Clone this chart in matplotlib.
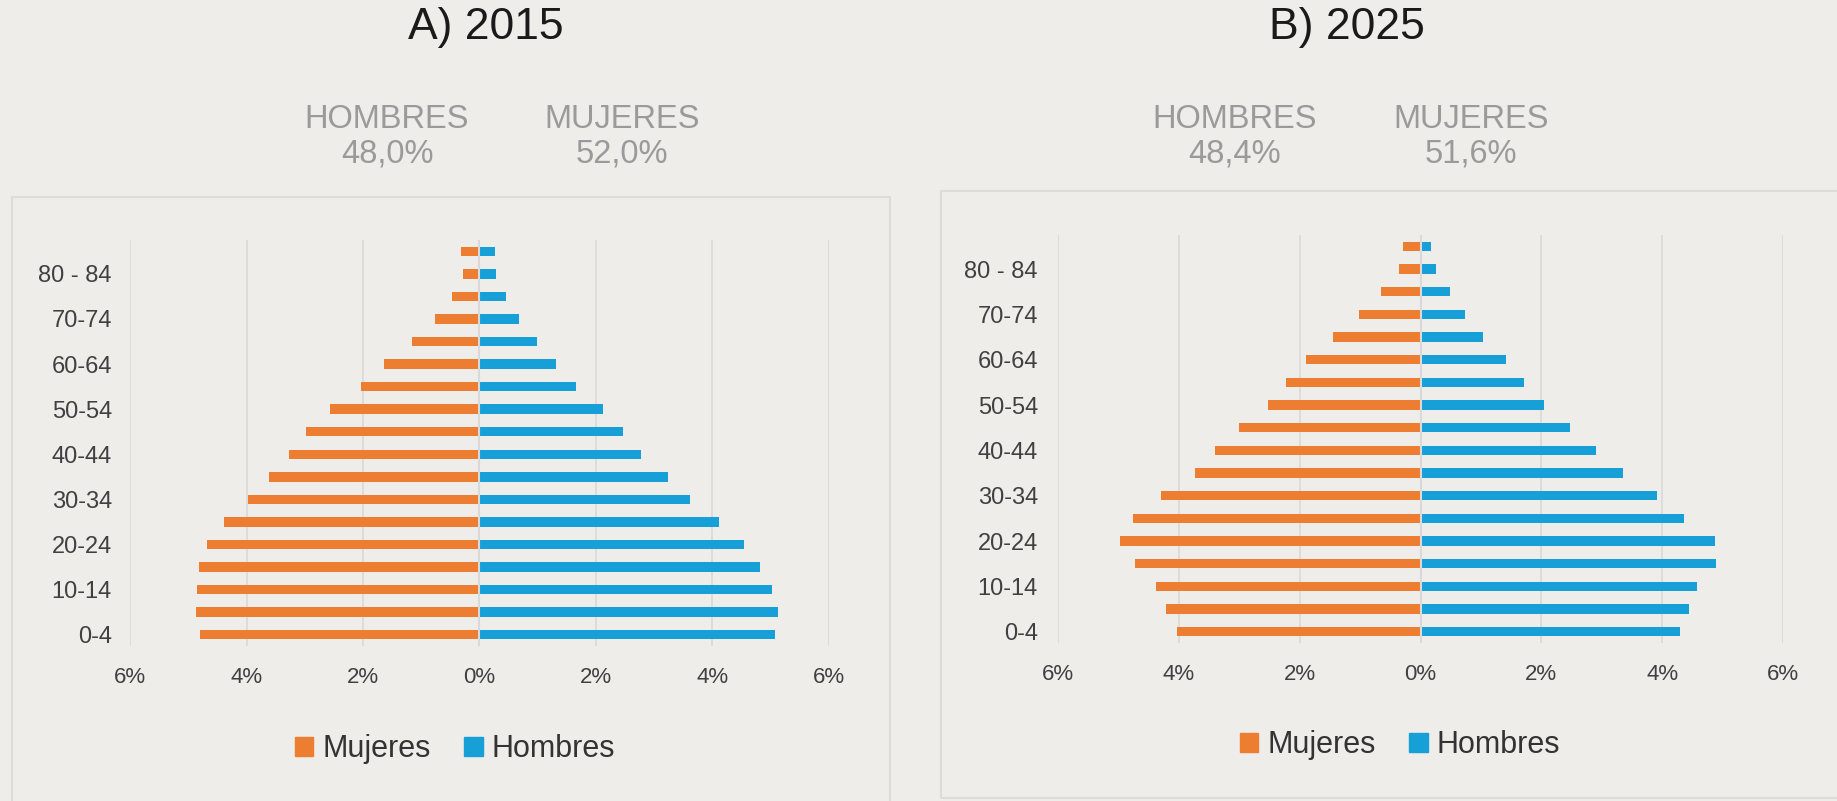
import matplotlib.pyplot as plt
from matplotlib.patches import Rectangle, Patch
import numpy as np

# Age groups, bottom to top
grupos = ['0-4', '5-9', '10-14', '15-19', '20-24', '25-29', '30-34', '35-39',
          '40-44', '45-49', '50-54', '55-59', '60-64', '65-69', '70-74',
          '75-79', '80 - 84', '85+']

# 2015 (% of population)
mujeres_2015 = [4.79, 4.86, 4.85, 4.81, 4.68, 4.39, 3.97, 3.62, 3.27, 2.97,
                2.56, 2.04, 1.64, 1.16, 0.76, 0.47, 0.28, 0.31]
hombres_2015 = [5.08, 5.13, 5.03, 4.82, 4.54, 4.12, 3.62, 3.24, 2.78, 2.46,
                2.12, 1.66, 1.32, 0.99, 0.68, 0.46, 0.28, 0.26]

# 2025 (% of population)
mujeres_2025 = [4.03, 4.21, 4.38, 4.73, 4.97, 4.76, 4.29, 3.74, 3.40, 3.01,
                2.52, 2.22, 1.89, 1.45, 1.01, 0.65, 0.35, 0.29]
hombres_2025 = [4.29, 4.45, 4.58, 4.89, 4.87, 4.36, 3.92, 3.35, 2.91, 2.48,
                2.04, 1.72, 1.41, 1.04, 0.73, 0.48, 0.26, 0.18]

titulos = ['A) 2015', 'B) 2025']
resumen = [('48,0%', '52,0%'), ('48,4%', '51,6%')]

xticks = [-6, -4, -2, 0, 2, 4, 6]

naranja = '#ED7D31'
azul = '#17A0D7'
fondo = '#EEEDE9'
gris_grid = '#D9D9D9'

plt.rcParams['font.family'] = ['Liberation Sans', 'DejaVu Sans']

W, H = 1837, 801
fig = plt.figure(figsize=(W / 100, H / 100), dpi=100, facecolor=fondo)


def px_axes(x0, y0, x1, y1):
    # pixel box (top-left origin) -> figure axes
    return fig.add_axes([x0 / W, (H - y1) / H, (x1 - x0) / W, (y1 - y0) / H])


# panel frames
for (x0, y0, x1, y1) in [(12, 197, 890, 815), (941, 191, 1850, 798)]:
    fig.patches.append(Rectangle((x0 / W, (H - y1) / H), (x1 - x0) / W, (y1 - y0) / H,
                                 transform=fig.transFigure, fill=False,
                                 edgecolor='#DCDCDA', lw=1.5))

paneles = [
    dict(box=(130, 240, 829, 646), muj=mujeres_2015, hom=hombres_2015, ypad=13,
         tx=486, hx=387, mx=622, lx=455, ly=749),
    dict(box=(1058, 235, 1783, 643), muj=mujeres_2025, hom=hombres_2025, ypad=14.5,
         tx=1347, hx=1235, mx=1471, lx=1400, ly=745),
]

y = np.arange(len(grupos))
for i, p in enumerate(paneles):
    ax = px_axes(*p['box'])
    ax.set_facecolor(fondo)
    ax.barh(y, -np.array(p['muj']), height=0.42, color=naranja, zorder=2)
    ax.barh(y, p['hom'], height=0.42, color=azul, zorder=2)
    ax.axvline(0, color=gris_grid, lw=1.5, zorder=3)
    ax.set_xlim(-6, 6)
    ax.set_ylim(-0.5, len(grupos) - 0.5)
    ax.set_xticks(xticks)
    ax.set_xticklabels([f'{abs(t)}%' for t in xticks])
    ax.set_yticks(y[::2])
    ax.set_yticklabels(grupos[::2])
    ax.grid(axis='x', color=gris_grid, lw=1.2, zorder=0)
    for s in ax.spines.values():
        s.set_visible(False)
    ax.tick_params(length=0, colors='#404040')
    ax.tick_params(axis='x', pad=15, labelsize=16)
    ax.tick_params(axis='y', pad=p['ypad'], labelsize=17)

    fig.text(p['tx'] / W, 1 - 28 / H, titulos[i], ha='center', va='center',
             fontsize=32, color='#1A1A1A')
    for xx, lab, val in [(p['hx'], 'HOMBRES', resumen[i][0]),
                         (p['mx'], 'MUJERES', resumen[i][1])]:
        fig.text(xx / W, 1 - 119 / H, lab, ha='center', va='center',
                 fontsize=23.5, color='#9A9A9A')
        fig.text(xx / W, 1 - 154 / H, val, ha='center', va='center',
                 fontsize=23.5, color='#9A9A9A')

    handles = [Patch(color=naranja, label='Mujeres'), Patch(color=azul, label='Hombres')]
    fig.legend(handles=handles, loc='center', bbox_to_anchor=(p['lx'] / W, 1 - p['ly'] / H),
               ncol=2, frameon=False, fontsize=22, handlelength=0.6, handleheight=0.6,
               handletextpad=0.3, columnspacing=1.1, labelcolor='#333333')

fig.savefig('out.png', dpi=100, facecolor=fondo)
